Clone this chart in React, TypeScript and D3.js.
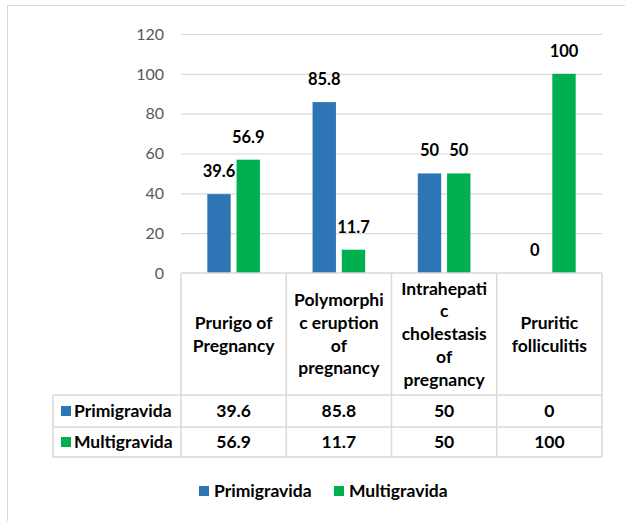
import React from 'react'
import * as d3 from 'd3'

const categories = [
  'Prurigo of Pregnancy',
  'Polymorphic eruption of pregnancy',
  'Intrahepatic cholestasis of pregnancy',
  'Pruritic folliculitis'
]
// line breaks as they appear in the table header
const categoryLines = [
  ['Prurigo of', 'Pregnancy'],
  ['Polymorphi', 'c eruption', 'of', 'pregnancy'],
  ['Intrahepati', 'c', 'cholestasis', 'of', 'pregnancy'],
  ['Pruritic', 'folliculitis']
]
const seriesNames = ['Primigravida', 'Multigravida']
const primigravida = [39.6, 85.8, 50, 0]
const multigravida = [56.9, 11.7, 50, 100]
const yTicks = [0, 20, 40, 60, 80, 100, 120]

const colors = ['#2E75B6', '#00B050']
const series = [primigravida, multigravida]

const width = 625
const height = 521
const font = 'Lato, "Open Sans", sans-serif'
const lineColor = '#D9D9D9'
const tableFont = 17.5

const y = d3.scaleLinear().domain([0, 120]).range([273, 34])

const x0 = d3.scaleBand().domain(categories).range([181, 602]).padding(0)

const x1 = d3
  .scaleBand()
  .domain(seriesNames)
  .range([x0.step() * 0.25, x0.step() * 0.75])
  .paddingInner(0.2)

const tableLeft = 53
const headerTop = y(0)
const rowLines = [395, 427, 457]

export default function App() {
  const right = x0.range()[1]
  return (
    <svg
      width={width}
      height={height}
      style={{ position: 'absolute', left: 0, top: 0, background: '#fff' }}
      fontFamily={font}
    >
      {/* chart border */}
      <line x1={7.5} x2={width} y1={5.5} y2={5.5} stroke={lineColor} />
      <line x1={7.5} x2={7.5} y1={5.5} y2={height} stroke={lineColor} />

      {/* gridlines and ticks */}
      {yTicks.map(t => (
        <g key={t}>
          {t > 0 && (
            <line x1={181} x2={right} y1={y(t) + 0.5} y2={y(t) + 0.5} stroke={lineColor} strokeWidth={1.2} />
          )}
          <text x={164} y={y(t)} dy="0.36em" textAnchor="end" fontSize={16} fill="#595959">
            {t}
          </text>
        </g>
      ))}

      {/* bars */}
      {categories.map((c, i) => (
        <g key={c} transform={`translate(${x0(c)},0)`}>
          {seriesNames.map((s, j) => {
            const v = series[j][i]
            return (
              <g key={s}>
                <rect
                  x={x1(s)}
                  y={y(v)}
                  width={x1.bandwidth()}
                  height={y(0) - y(v)}
                  fill={colors[j]}
                />
                <text
                  x={x1(s)! + x1.bandwidth() / 2}
                  y={y(v) - 17}
                  textAnchor="middle"
                  fontSize={16.5}
                  fontWeight="bold"
                  fill="#000"
                >
                  {v}
                </text>
              </g>
            )
          })}
        </g>
      ))}

      {/* data table */}
      <g stroke={lineColor} strokeWidth={1.5} fill="none">
        <line x1={181} x2={right} y1={headerTop} y2={headerTop} />
        {rowLines.map(r => (
          <line key={r} x1={tableLeft} x2={right} y1={r} y2={r} />
        ))}
        <line x1={tableLeft} x2={tableLeft} y1={rowLines[0]} y2={rowLines[2]} />
        {categories.map(c => (
          <line key={c} x1={x0(c)} x2={x0(c)} y1={headerTop} y2={rowLines[2]} />
        ))}
        <line x1={right} x2={right} y1={headerTop} y2={rowLines[2]} />
      </g>

      {categories.map((c, i) => {
        const lines = categoryLines[i]
        const cx = x0(c)! + x0.bandwidth() / 2
        const cy = (headerTop + rowLines[0]) / 2
        const lh = 22.8
        return (
          <text key={c} textAnchor="middle" fontSize={tableFont} fontWeight="bold" fill="#000">
            {lines.map((l, k) => (
              <tspan key={k} x={cx} y={cy + (k - (lines.length - 1) / 2) * lh} dy="0.35em">
                {l}
              </tspan>
            ))}
          </text>
        )
      })}

      {seriesNames.map((s, j) => {
        const cy = (rowLines[j] + rowLines[j + 1]) / 2
        return (
          <g key={s}>
            <rect x={61} y={cy - 5} width={10} height={10} fill={colors[j]} />
            <text x={74} y={cy} dy="0.36em" fontSize={tableFont} fontWeight="bold" fill="#000">
              {s}
            </text>
            {categories.map((c, i) => (
              <text
                key={c}
                x={x0(c)! + x0.bandwidth() / 2}
                y={cy}
                dy="0.36em"
                textAnchor="middle"
                fontSize={tableFont}
                fontWeight="bold"
                fill="#000"
              >
                {series[j][i]}
              </text>
            ))}
          </g>
        )
      })}

      {/* legend */}
      {seriesNames.map((s, j) => {
        const lx = 199 + j * 135
        return (
          <g key={s}>
            <rect x={lx} y={486} width={10} height={10} fill={colors[j]} />
            <text x={lx + 15} y={491} dy="0.36em" fontSize={tableFont} fontWeight="bold" fill="#000">
              {s}
            </text>
          </g>
        )
      })}
    </svg>
  )
}
